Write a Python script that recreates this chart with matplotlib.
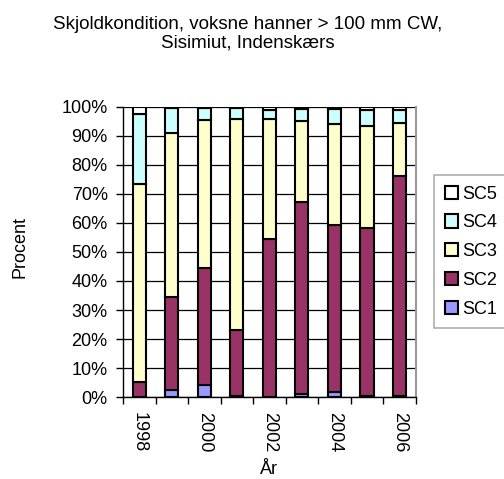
import matplotlib
matplotlib.use("Agg")
import matplotlib.pyplot as plt
import numpy as np

plt.rcParams['font.family'] = ['Liberation Sans', 'DejaVu Sans']

years = [1998, 1999, 2000, 2001, 2002, 2003, 2004, 2005, 2006]
year_labels = ["1998", "", "2000", "", "2002", "", "2004", "", "2006"]
series_names = ["SC1", "SC2", "SC3", "SC4", "SC5"]

# percent of each shell condition per year
sc1 = [0.0, 2.4, 4.3, 0.3, 0.0, 1.2, 1.6, 0.3, 0.3]
sc2 = [5.3, 32.2, 40.1, 22.8, 54.4, 65.9, 57.7, 57.9, 75.7]
sc3 = [68.0, 56.3, 50.9, 72.6, 41.3, 28.1, 34.9, 35.2, 18.4]
sc4 = [24.3, 8.8, 4.2, 3.8, 3.3, 4.1, 5.1, 5.6, 4.6]
sc5 = [2.4, 0.3, 0.5, 0.5, 1.0, 0.7, 0.7, 1.0, 1.0]

colors = ["#9999FF", "#993366", "#FFFFCC", "#CCFFFF", "#FFFFFF"]
fs = 13

fig = plt.figure(figsize=(5.04, 4.79), dpi=100)
ax = fig.add_axes([0.244, 0.171, 0.581, 0.606])

x = np.arange(len(years))
bottom = np.zeros(len(years))
handles = []
for name, vals, col in zip(series_names, [sc1, sc2, sc3, sc4, sc5], colors):
    b = ax.bar(x, vals, width=0.4, bottom=bottom, color=col, edgecolor='black',
               linewidth=1.5, label=name, zorder=3)
    handles.append(b)
    bottom += np.array(vals)

ax.set_xlim(-0.5, len(years) - 0.5)
ax.set_ylim(0, 100)
ax.set_yticks(np.arange(0, 101, 10))
ax.set_yticklabels([f"{v}%" for v in range(0, 101, 10)], fontsize=fs)
ax.yaxis.grid(True, color='black', linewidth=0.9, zorder=0)
ax.set_axisbelow(True)

# ticks between categories, labels at bar centres
ax.set_xticks(np.arange(-0.5, len(years), 1.0))
ax.set_xticklabels([])
ax.tick_params(axis='x', direction='out', length=5, width=1, color='black')
ax.set_xticks(x, minor=True)
ax.set_xticklabels(year_labels, minor=True, rotation=-90, fontsize=fs)
ax.tick_params(axis='x', which='minor', length=0, pad=11)
ax.tick_params(axis='y', direction='out', length=5, width=1, pad=6)

ax.spines['top'].set_visible(False)
ax.spines['right'].set_color('#999999')
ax.spines['right'].set_linewidth(1.5)
ax.spines['left'].set_linewidth(1)
ax.spines['bottom'].set_linewidth(1)

ax.set_xlabel("År", fontsize=fs, labelpad=6)
fig.text(0.039, 0.484, "Procent", rotation=90, ha='center', va='center', fontsize=fs)

fig.text(0.492, 0.967, "Skjoldkondition, voksne hanner > 100 mm CW,\nSisimiut, Indenskærs",
         ha='center', va='top', fontsize=13.5, linespacing=1.15)

leg = fig.legend(handles[::-1], series_names[::-1], loc='upper left',
                 bbox_to_anchor=(0.861, 0.635), fontsize=fs, frameon=True,
                 fancybox=False, edgecolor='#999999', handlelength=0.75,
                 handleheight=0.75, handletextpad=0.2, labelspacing=0.65,
                 borderpad=0.6, borderaxespad=0)
leg.get_frame().set_linewidth(1.2)

fig.savefig("out.png", dpi=100)
